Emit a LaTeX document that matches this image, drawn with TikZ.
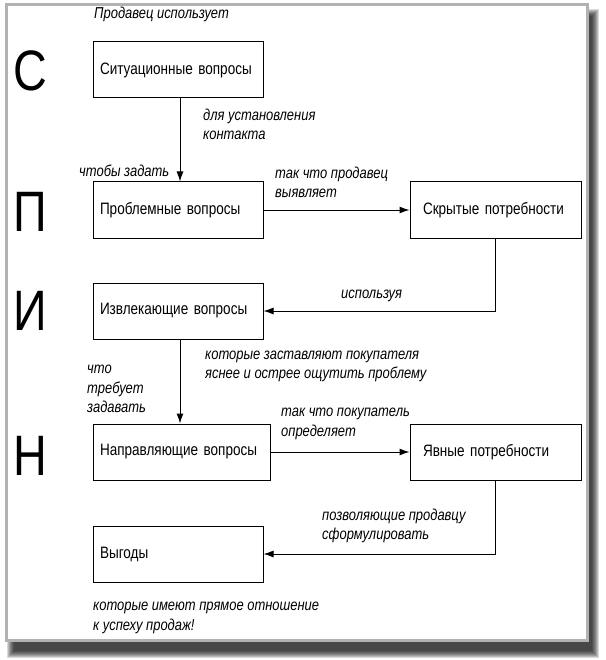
\documentclass[tikz,border=0pt]{standalone}
\usepackage{fontspec}
\setmainfont[FakeStretch=0.82]{Liberation Sans}
\usetikzlibrary{arrows.meta}
\newcommand\myboxfont{\fontsize{16.5}{18}\selectfont\spaceskip=0.17em\relax}
\begin{document}
\begin{tikzpicture}[x=1pt,y=-1pt,
  box/.style={draw, line width=1pt, minimum height=56pt, inner ysep=0pt,
    font=\myboxfont, align=left},
  lbl/.style={font=\fontsize{15.8}{19.5}\selectfont\itshape, anchor=west, align=left, inner sep=0pt},
  big/.style={font=\fontsize{57}{60}\selectfont, anchor=base, inner sep=0pt},
  conn/.style={line width=1pt, -{Latex[length=10pt,width=7pt]}}]
\useasboundingbox (0,0) rectangle (605,660);
% shadow
\foreach \i in {0,...,7} {
  \fill[black, opacity=0.15] (14-\i,16-\i) rectangle (592+\i,651+\i);
}
\draw[draw=black!30, line width=3pt, fill=white] (6.5,4.5) rectangle (587.5,640.5);
% big letters
\node[big] (bs) at (30,91) {С};
\node[big] (bp) at (30,231) {П};
\node[big] (bi) at (30,330) {И};
\node[big] (bn) at (30,475) {Н};
% boxes
\node[box, text width=156pt, inner xsep=7pt] (sit) at (178,70) {Ситуационные вопросы};
\node[box, text width=156pt, inner xsep=7pt] (prob) at (178,210) {Проблемные вопросы};
\node[box, text width=145pt, inner xsep=13pt] (hid) at (495.5,210) {Скрытые потребности};
\node[box, text width=156pt, inner xsep=7pt] (extr) at (178,311) {Извлекающие вопросы};
\node[box, text width=163pt, inner xsep=7pt] (dir) at (181.5,452) {Направляющие вопросы};
\node[box, text width=145pt, inner xsep=13pt] (expl) at (495.5,452) {Явные потребности};
\node[box, text width=156pt, inner xsep=7pt] (ben) at (178,554) {Выгоды};
% connectors
\draw[conn] ([xshift=2pt]sit.south) -- ([xshift=2pt]prob.north);
\draw[conn] (prob.east) -- (hid.west);
\draw[conn] (hid.south) |- (extr.east);
\draw[conn] ([xshift=2pt]extr.south) -- ([xshift=2pt]extr.south |- dir.north);
\draw[conn] (dir.east) -- (expl.west);
\draw[conn] (expl.south) |- (ben.east);
% labels
\node[lbl] (l1) at (94,14) {Продавец использует};
\node[lbl] (l2) at (203,124.5) {для установления\\контакта};
\node[lbl] (l3) at (79,171) {чтобы задать};
\node[lbl] (l4) at (275,182.5) {так что продавец\\выявляет};
\node[lbl] (l5) at (341,296) {используя};
\node[lbl] (l6) at (205,366.5) {которые заставляют покупателя\\яснее и острее ощутить проблему};
\node[lbl] (l7) at (87,389) {что\\требует\\задавать};
\node[lbl] (l8) at (281,424) {так что покупатель\\определяет};
\node[lbl] (l9) at (322,526) {позволяющие продавцу\\сформулировать};
\node[lbl] (l10) at (93,618) {которые имеют прямое отношение\\к успеху продаж!};
\end{tikzpicture}
\end{document}
